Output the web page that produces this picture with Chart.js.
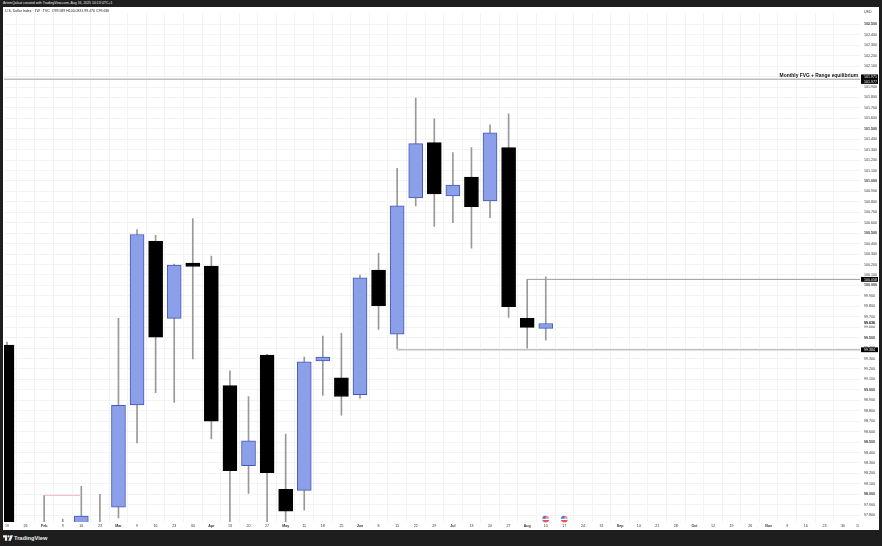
<!DOCTYPE html>
<html>

<head>
    <meta charset="UTF-8" />
    <title>U.S. Dollar Index</title>
    <script src="https://cdn.jsdelivr.net/npm/chart.js"></script>
    <style>
        html, body { margin: 0; padding: 0; width: 882px; height: 546px; overflow: hidden; background: #1e1e1e; font-family: "Liberation Sans", sans-serif; }
        #grafico { position: absolute; left: 3px; top: 7px; background: #fff; }
        .creado { position: absolute; left: 3px; top: 1px; color: #e8e8e8; font-size: 3.45px; line-height: 5px; white-space: nowrap; }
        .leyenda { position: absolute; left: 5px; top: 9px; color: #222; font-size: 3.5px; line-height: 5px; white-space: nowrap; }
        .marca { position: absolute; left: 3px; top: 533px; color: #f0f0f0; font-size: 5.7px; line-height: 10px; font-weight: bold; white-space: nowrap; }
        .marca svg { vertical-align: -1px; margin-right: 1px; }
    </style>
</head>

<body>
    <div class="creado">ArtemQalaat created with TradingView.com, Aug 16, 2025 10:13 UTC+1</div>
    <canvas id="grafico" width="876" height="523"></canvas>
    <div class="leyenda">U.S. Dollar Index · 1W · TVC &nbsp;O99.589 H100.083 L99.476 C99.636</div>
    <div class="marca"><svg width="10" height="6" viewBox="0 0 36 20"><path fill="#f0f0f0" d="M0 0h15v20H7V8H0zM27 0l-8 20h9l8-20z"/><circle fill="#f0f0f0" cx="20" cy="4" r="4"/></svg>TradingView</div>
    <script>
        // Velas semanales (null = queda fuera de la vista)
        const semanas = ['19', '26', 'Feb', '9', '16', '23', 'Mar', '9', '16', '23', '30', 'Apr', '13', '20', '27', 'May', '11', '18', '25', 'Jun', '8', '15', '22', '29', 'Jul', '13', '20', '27', 'Aug', '10', '17', '24', '31', 'Sep', '14', '21', '28', 'Oct', '12', '19', '26', 'Nov', '9', '16', '23', '30', 'D'];
        const meses = ['Feb', 'Mar', 'Apr', 'May', 'Jun', 'Jul', 'Aug', 'Sep', 'Oct', 'Nov'];

        const aperturas = [99.429, null, null, null, 97.7, null, 97.877, 98.856, 100.422, 99.684, 100.214, 100.185, 99.041, 98.274, 99.334, 98.047, 98.038, 99.277, 99.116, 98.955, 100.147, 99.533, 100.838, 101.368, 100.857, 101.037, 100.810, 101.320, 99.684, 99.589];
        const cierres = [97.6, null, null, null, 97.792, null, 98.851, 100.488, 99.504, 100.195, 100.181, 98.700, 98.227, 98.511, 98.208, 97.839, 99.268, 99.315, 98.937, 100.072, 99.807, 100.762, 101.358, 100.876, 100.961, 100.753, 101.462, 99.797, 99.599, 99.636];
        const maximos = [99.457, null, 97.99, 97.763, 98.076, 98.0, 99.684, 100.535, 100.479, 100.204, 100.639, 100.280, 99.183, 98.937, 99.34, 98.577, 99.315, 99.514, 99.542, 100.100, 100.308, 101.122, 101.793, 101.595, 101.273, 101.320, 101.538, 101.642, 100.058, 100.083];
        const minimos = [97.6, null, 97.6, 97.6, 97.6, 97.6, 97.773, 98.492, 98.974, 98.880, 99.296, 98.530, 97.6, 98.009, 97.6, 97.6, 97.849, 98.946, 98.757, 98.918, 99.580, 99.391, 100.762, 100.564, 100.602, 100.356, 100.649, 99.693, 99.400, 99.476];

        const nivelEquilibrio = 101.974;
        const nivelAlto = 100.058;
        const nivelBajo = 99.384;
        const nivelRosa = 97.99;
        const semanasEventos = [29, 30];
        const valorEventos = 97.763;

        const AZUL = '#8c9fe9';
        const BORDE_AZUL = '#4459b8';
        const FUENTE = '"Liberation Sans", sans-serif';
        const xMin = -0.161;
        const xMax = 45.914;
        const yMin = 97.735;
        const yMax = 102.607;

        function linea(desde, hasta, valor, color, ancho) {
            return {
                type: 'line',
                data: [{ x: desde, y: valor }, { x: hasta, y: valor }],
                borderColor: color,
                borderWidth: ancho,
                pointRadius: 0,
                order: 1
            };
        }

        // Etiquetas negras del eje, texto de la linea y banderas
        const extras = {
            id: 'extras',
            afterDraw(chart) {
                const { ctx, scales: { x, y }, chartArea } = chart;
                const izq = chartArea.right + 1;

                function etiqueta(texto, centro) {
                    ctx.fillStyle = '#000';
                    ctx.fillRect(izq, centro - 2.4, 17, 4.8);
                    ctx.fillStyle = '#fff';
                    ctx.font = '3.6px ' + FUENTE;
                    ctx.textBaseline = 'middle';
                    ctx.textAlign = 'left';
                    ctx.fillText(texto, izq + 3, centro + 0.2);
                }

                ctx.save();
                etiqueta('101.971', y.getPixelForValue(nivelEquilibrio) - 2.4);
                etiqueta('101.977', y.getPixelForValue(nivelEquilibrio) + 2.2);
                etiqueta('100.058', y.getPixelForValue(nivelAlto));
                etiqueta('99.384', y.getPixelForValue(nivelBajo));

                ctx.fillStyle = '#fff';
                ctx.fillRect(izq, y.getPixelForValue(99.636) - 2, 17, 4);
                ctx.fillStyle = '#000';
                ctx.font = 'bold 3.6px ' + FUENTE;
                ctx.fillText('99.636', izq + 3, y.getPixelForValue(99.636));

                ctx.font = '3.6px ' + FUENTE;
                ctx.fillStyle = '#333';
                ctx.fillText('USD', izq + 3, 5);

                ctx.font = 'bold 4.9px ' + FUENTE;
                ctx.fillStyle = '#111';
                ctx.textAlign = 'right';
                ctx.fillText('Monthly FVG + Range equilibrium', chartArea.right - 2, y.getPixelForValue(nivelEquilibrio) - 3.6);

                semanasEventos.forEach(s => {
                    const cx = x.getPixelForValue(s);
                    const cy = y.getPixelForValue(valorEventos);
                    ctx.beginPath();
                    ctx.arc(cx, cy, 3.4, 0, Math.PI * 2);
                    ctx.fillStyle = '#f28b94';
                    ctx.fill();
                    ctx.save();
                    ctx.clip();
                    ctx.fillStyle = '#fff';
                    ctx.fillRect(cx - 4, cy - 0.5, 8, 1.6);
                    ctx.fillStyle = '#3f7fd8';
                    ctx.fillRect(cx - 4, cy - 4, 4, 3.6);
                    ctx.fillStyle = '#e2384a';
                    ctx.fillRect(cx - 4, cy + 1.2, 8, 1.4);
                    ctx.restore();
                });
                ctx.restore();
            }
        };

        new Chart(document.getElementById('grafico'), {
            type: 'bar',
            data: {
                datasets: [
                    {
                        // mechas
                        data: maximos.map((m, i) => ({ x: i, y: m === null ? null : [minimos[i], m] })),
                        backgroundColor: '#999',
                        barThickness: 1,
                        grouped: false,
                        order: 3
                    },
                    {
                        // cuerpos
                        data: aperturas.map((a, i) => ({ x: i, y: a === null ? null : [a, cierres[i]] })),
                        backgroundColor: aperturas.map((a, i) => cierres[i] > a ? AZUL : '#000'),
                        borderColor: aperturas.map((a, i) => cierres[i] > a ? BORDE_AZUL : '#000'),
                        borderWidth: 1,
                        borderSkipped: false,
                        barThickness: 14,
                        grouped: false,
                        order: 2
                    },
                    linea(xMin, xMax, nivelEquilibrio, '#bdbdbd', 1.5),
                    linea(28, xMax, nivelAlto, '#9a9a9a', 1),
                    linea(21, xMax, nivelBajo, '#c2c2c2', 1.5),
                    linea(2, 4, nivelRosa, '#f4b6c2', 1)
                ]
            },
            options: {
                responsive: false,
                animation: false,
                layout: { padding: 0 },
                plugins: { legend: { display: false }, tooltip: { enabled: false } },
                scales: {
                    x: {
                        type: 'linear',
                        min: xMin,
                        max: xMax,
                        offset: false,
                        grid: {
                            color: c => c.tick && c.tick.value > 45.5 ? 'transparent' : '#f3f3f3',
                            lineWidth: 1,
                            drawTicks: false
                        },
                        border: { display: false },
                        afterBuildTicks(scale) {
                            scale.ticks = semanas.map((s, i) => ({ value: i < 46 ? i : 45.8 }));
                        },
                        afterFit(scale) { scale.height = 8; },
                        ticks: {
                            autoSkip: false,
                            maxRotation: 0,
                            padding: 2,
                            color: '#333',
                            font: c => ({ family: FUENTE, size: 3.6, weight: meses.includes(semanas[c.index]) ? 'bold' : 'normal' }),
                            callback: (v, i) => semanas[i]
                        }
                    },
                    y: {
                        position: 'right',
                        min: yMin,
                        max: yMax,
                        grid: { color: '#f3f3f3', lineWidth: 1, drawTicks: false },
                        border: { display: false },
                        afterBuildTicks(scale) {
                            scale.ticks = scale.ticks.filter(t => t.value <= 102.55);
                        },
                        afterFit(scale) { scale.width = 19; },
                        ticks: {
                            stepSize: 0.1,
                            includeBounds: false,
                            autoSkip: false,
                            padding: 4,
                            color: '#333',
                            font: c => {
                                const resto = c.tick ? Math.round(c.tick.value * 10) % 5 : 1;
                                return { family: FUENTE, size: 3.6, weight: resto === 0 ? 'bold' : 'normal' };
                            },
                            callback: v => v.toFixed(3)
                        }
                    }
                }
            },
            plugins: [extras]
        });
    </script>
</body>

</html>
